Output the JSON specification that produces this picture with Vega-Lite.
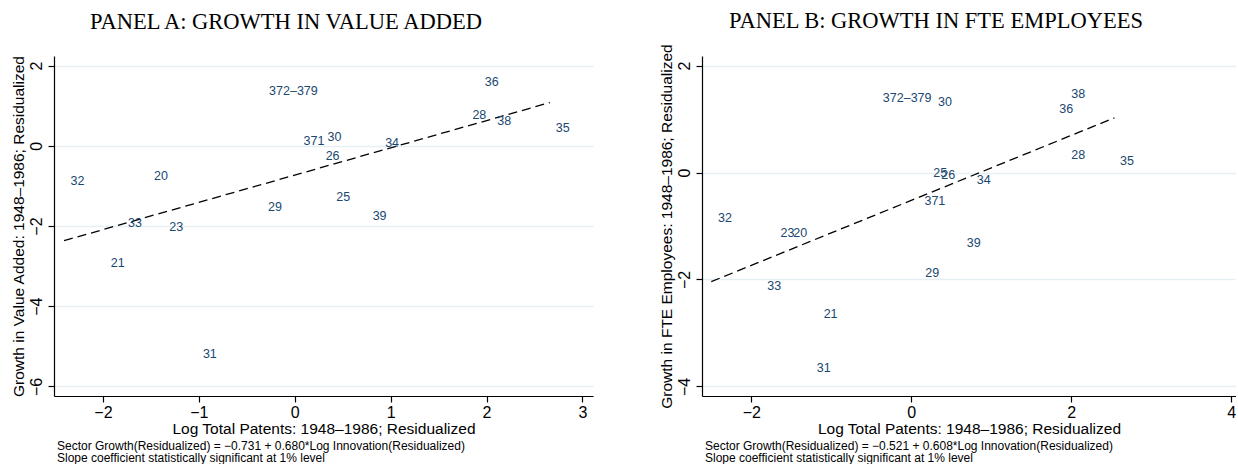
{
  "$schema": "https://vega.github.io/schema/vega-lite/v6.json",
  "background": "white",
  "padding": {"left": 11, "top": 10, "right": 0, "bottom": 0},
  "spacing": 66,
  "config": {
    "view": {"stroke": null},
    "axis": {
      "domainColor": "black", "domainWidth": 1.2, "tickColor": "black", "tickWidth": 1.2, "tickSize": 6,
      "labelFont": "Liberation Sans", "labelFontSize": 16, "labelColor": "black", "format": "~g",
      "titleFont": "Liberation Sans", "titleFontSize": 15.5, "titleFontWeight": "normal", "titleColor": "black",
      "gridColor": "#e6eff1", "gridWidth": 1.5
    },
    "axisX": {"grid": false, "labelPadding": 2, "titlePadding": 1},
    "axisY": {"grid": true, "labelAngle": -90, "labelAlign": "center", "labelBaseline": "bottom", "labelPadding": 4, "titlePadding": 2},
    "title": {"font": "Liberation Serif", "fontSize": 22.5, "fontWeight": "normal", "color": "black"}
  },
  "datasets": {
    "a": [
      {"sector": "32", "x": -2.40, "y": -0.875},
      {"sector": "20", "x": -1.53, "y": -0.75},
      {"sector": "33", "x": -1.80, "y": -1.925},
      {"sector": "23", "x": -1.37, "y": -2.02},
      {"sector": "29", "x": -0.34, "y": -1.52},
      {"sector": "372–379", "x": -0.33, "y": 1.375},
      {"sector": "371", "x": 0.03, "y": 0.13},
      {"sector": "30", "x": 0.28, "y": 0.23},
      {"sector": "26", "x": 0.26, "y": -0.25},
      {"sector": "25", "x": 0.37, "y": -1.28},
      {"sector": "39", "x": 0.75, "y": -1.74},
      {"sector": "34", "x": 0.88, "y": 0.08},
      {"sector": "28", "x": 1.79, "y": 0.775},
      {"sector": "36", "x": 1.92, "y": 1.58},
      {"sector": "38", "x": 2.05, "y": 0.62},
      {"sector": "35", "x": 2.66, "y": 0.45},
      {"sector": "21", "x": -1.98, "y": -2.925},
      {"sector": "31", "x": -1.02, "y": -5.2}
    ],
    "b": [
      {"sector": "372–379", "x": -0.43, "y": 1.40},
      {"sector": "30", "x": 0.26, "y": 1.326},
      {"sector": "32", "x": -2.49, "y": -0.856},
      {"sector": "23", "x": -1.71, "y": -1.14},
      {"sector": "20", "x": -1.55, "y": -1.14},
      {"sector": "25", "x": 0.20, "y": 0.0},
      {"sector": "26", "x": 0.30, "y": -0.05},
      {"sector": "371", "x": 0.09, "y": -0.525},
      {"sector": "34", "x": 0.745, "y": -0.137},
      {"sector": "38", "x": 1.925, "y": 1.47},
      {"sector": "36", "x": 1.775, "y": 1.195},
      {"sector": "28", "x": 1.925, "y": 0.33},
      {"sector": "35", "x": 2.535, "y": 0.22},
      {"sector": "39", "x": 0.62, "y": -1.325},
      {"sector": "29", "x": 0.10, "y": -1.876},
      {"sector": "33", "x": -1.875, "y": -2.125},
      {"sector": "21", "x": -1.17, "y": -2.65},
      {"sector": "31", "x": -1.255, "y": -3.65}
    ],
    "lineA": [
      {"x": -2.405, "y": -2.366},
      {"x": 2.66, "y": 1.078}
    ],
    "lineB": [
      {"x": -2.50, "y": -2.041},
      {"x": 2.54, "y": 1.023}
    ]
  },
  "hconcat": [
    {
      "title": {"text": "PANEL A: GROWTH IN VALUE ADDED", "anchor": "start", "dx": 79, "offset": 22},
      "vconcat": [
        {
          "width": 539, "height": 340,
          "title": {"text": ["Sector Growth(Residualized) = −0.731 + 0.680*Log Innovation(Residualized)", "Slope coefficient statistically significant at 1% level"], "orient": "bottom", "anchor": "start", "frame": "group", "font": "Liberation Sans", "fontSize": 12, "lineHeight": 12.5, "offset": 4, "dx": 3},
          "layer": [
            {
              "data": {"name": "lineA"},
              "mark": {"type": "line", "color": "black", "strokeDash": [9, 5], "strokeWidth": 1.3},
              "encoding": {
                "x": {"field": "x", "type": "quantitative", "scale": {"domain": [-2.51, 3.11], "nice": false, "zero": false},
                      "axis": {"values": [-2, -1, 0, 1, 2, 3], "title": "Log Total Patents: 1948–1986; Residualized"}},
                "y": {"field": "y", "type": "quantitative", "scale": {"domain": [-6.24, 2.24], "nice": false, "zero": false},
                      "axis": {"values": [-6, -4, -2, 0, 2], "title": "Growth in Value Added: 1948–1986; Residualized"}}
              }
            },
            {
              "data": {"name": "a"},
              "mark": {"type": "text", "align": "left", "baseline": "middle", "dx": 6, "font": "Liberation Sans", "fontSize": 12.5, "color": "#1a476f"},
              "encoding": {
                "x": {"field": "x", "type": "quantitative"},
                "y": {"field": "y", "type": "quantitative"},
                "text": {"field": "sector", "type": "nominal"}
              }
            }
          ]
        }
      ]
    },
    {
      "title": {"text": "PANEL B: GROWTH IN FTE EMPLOYEES", "anchor": "start", "dx": 70, "offset": 11},
      "vconcat": [
        {
          "width": 534, "height": 340,
          "title": {"text": ["Sector Growth(Residualized) = −0.521 + 0.608*Log Innovation(Residualized)", "Slope coefficient statistically significant at 1% level"], "orient": "bottom", "anchor": "start", "frame": "group", "font": "Liberation Sans", "fontSize": 12, "lineHeight": 12.5, "offset": 4, "dx": 3},
          "layer": [
            {
              "data": {"name": "lineB"},
              "mark": {"type": "line", "color": "black", "strokeDash": [9, 5], "strokeWidth": 1.3},
              "encoding": {
                "x": {"field": "x", "type": "quantitative", "scale": {"domain": [-2.616, 4.06], "nice": false, "zero": false},
                      "axis": {"values": [-2, 0, 2, 4], "title": "Log Total Patents: 1948–1986; Residualized"}},
                "y": {"field": "y", "type": "quantitative", "scale": {"domain": [-4.18, 2.18], "nice": false, "zero": false},
                      "axis": {"values": [-4, -2, 0, 2], "title": "Growth in FTE Employees: 1948–1986; Residualized"}}
              }
            },
            {
              "data": {"name": "b"},
              "mark": {"type": "text", "align": "left", "baseline": "middle", "dx": 6, "font": "Liberation Sans", "fontSize": 12.5, "color": "#1a476f"},
              "encoding": {
                "x": {"field": "x", "type": "quantitative"},
                "y": {"field": "y", "type": "quantitative"},
                "text": {"field": "sector", "type": "nominal"}
              }
            }
          ]
        }
      ]
    }
  ]
}
